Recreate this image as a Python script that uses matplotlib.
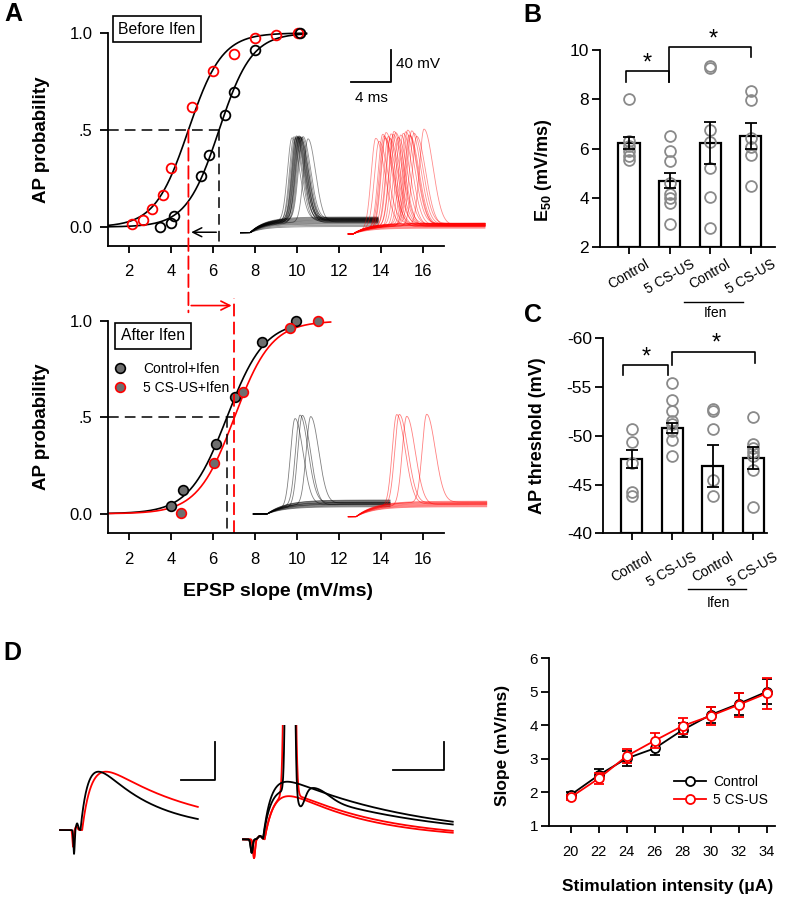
import numpy as np
import matplotlib
matplotlib.use('Agg')
import matplotlib.pyplot as plt
from matplotlib.lines import Line2D
from matplotlib.patches import ConnectionPatch
import matplotlib.transforms as mtransforms

plt.rcParams['font.family'] = ['Liberation Sans', 'DejaVu Sans']
plt.rcParams['axes.linewidth'] = 1.3
plt.rcParams['xtick.major.width'] = 1.3
plt.rcParams['ytick.major.width'] = 1.3
plt.rcParams['mathtext.default'] = 'regular'
plt.rcParams['axes.unicode_minus'] = False

W, H = 787, 901
fig = plt.figure(figsize=(W / 100, H / 100), dpi=100)

# ===================== DATA =====================
# Panel A - before Ifen (AP probability vs EPSP slope)
before_ctrl_x = [3.49, 3.98, 4.13, 5.43, 5.79, 6.56, 6.98, 8.02, 10.14]
before_ctrl_y = [0.0, 0.022, 0.055, 0.262, 0.371, 0.578, 0.698, 0.914, 1.0]
before_cs_x = [2.16, 2.65, 3.08, 3.62, 4.0, 5.0, 6.02, 7.02, 8.0, 9.0, 10.03]
before_cs_y = [0.014, 0.038, 0.095, 0.164, 0.305, 0.617, 0.805, 0.891, 0.974, 0.99, 1.0]
before_e50 = [6.29, 4.83]          # control, 5 CS-US
before_k = [0.78, 0.80]
# Panel A - after Ifen
after_ctrl_x = [3.99, 4.56, 6.12, 7.04, 8.33, 9.97]
after_ctrl_y = [0.038, 0.121, 0.36, 0.606, 0.891, 1.0]
after_cs_x = [4.46, 6.07, 7.44, 9.65, 11.0]
after_cs_y = [0.003, 0.263, 0.632, 0.964, 1.0]
after_e50 = [6.66, 7.02]
after_k = [0.90, 0.88]
slope_ticks = [2, 4, 6, 8, 10, 12, 14, 16]

# Panel A example AP traces (spike times in ms, membrane levels in mV)
topA_black_sub = [-57, -55.5, -54, -53, -52, -51, -50, -49, -48, -47, -46, -45]
topA_black_spk_t = [5.2, 5.4, 5.5, 5.6, 5.65, 5.7, 5.75, 5.8, 5.85, 5.9, 5.95, 6.0, 6.05, 6.1, 6.2, 6.3, 6.8]
topA_black_spk_v = [-48, -50, -47, -49, -51, -46, -48, -50, -47, -49, -52, -48, -46, -50, -49, -47, -51]
topA_black_peak = [55, 56, 54, 56, 57, 55, 56, 56, 55, 57, 56, 55, 56, 54, 55, 56, 53]
topA_red_sub = [-59, -58, -57, -56, -55.5, -55, -54, -53.5, -53, -52.5]
topA_red_spk_t = [13.57, 13.9, 14.27, 14.4, 14.5, 14.6, 14.83, 15.0, 15.1, 15.33, 15.4, 15.57,
                  15.83, 16.07, 16.33, 16.57, 16.77, 16.9, 17.0, 17.17, 17.4, 17.67, 18.4]
topA_red_spk_v = [-55, -53, -56, -54, -57, -55, -53, -56, -54, -55, -53, -57,
                  -54, -56, -55, -53, -54, -56, -55, -54, -53, -56, -55]
topA_red_peak = [56, 52, 60, 58, 55, 62, 57, 54, 60, 59, 63, 61, 55, 58, 60, 62, 64, 58, 57, 63, 60, 56, 65]
botA_black_sub = [-51, -50, -49, -48, -47.5, -47, -46, -45.5, -45, -44, -43, -42.5]
botA_black_spk_t = [5.5, 6.0, 6.23, 7.07]
botA_black_spk_v = [-47, -45, -48, -46]
botA_black_peak = [62, 66, 65, 63]
botA_red_sub = [-51, -50, -49, -48, -47, -46, -45, -44]
botA_red_spk_t = [15.67, 15.93, 16.67, 18.67]
botA_red_spk_v = [-47, -46, -48, -45]
botA_red_peak = [66, 66, 63, 65]

# Panel B - E50
groups = ['Control', '5 CS-US', 'Control', '5 CS-US']
e50_mean = [6.21, 4.70, 6.21, 6.50]
e50_sem = [0.24, 0.31, 0.85, 0.54]
e50_pts = [[8.0, 6.3, 6.1, 5.9, 5.7, 5.53],
           [6.52, 5.91, 5.5, 4.58, 4.17, 3.98, 3.78, 2.92],
           [9.33, 9.26, 6.75, 6.27, 5.2, 4.02, 2.76],
           [8.33, 7.97, 6.41, 6.07, 5.73, 4.47]]
# Panel C - AP threshold
thr_mean = [-47.6, -50.8, -46.9, -47.75]
thr_sem = [0.9, 0.55, 2.2, 1.15]
thr_pts = [[-50.7, -49.4, -47.2, -44.2, -43.85],
           [-55.4, -53.7, -52.5, -51.5, -51.2, -50.5, -49.6, -47.9],
           [-52.75, -52.5, -50.7, -45.5, -43.85],
           [-51.9, -49.2, -48.7, -48.3, -47.9, -46.5, -42.7]]

# Panel D - input/output
stim = [20, 22, 24, 26, 28, 30, 32, 34]
slope_ctrl = [1.92, 2.51, 3.01, 3.31, 3.86, 4.31, 4.64, 5.0]
slope_ctrl_err = [0.1, 0.17, 0.22, 0.2, 0.22, 0.25, 0.33, 0.37]
slope_cs = [1.85, 2.41, 3.08, 3.54, 3.98, 4.28, 4.61, 4.95]
slope_cs_err = [0.08, 0.15, 0.2, 0.22, 0.25, 0.28, 0.35, 0.45]

# Panel D example EPSP traces: (onset ms, rise tau, decay tau, amplitude mV)
d1_black = (7.5, 2.35, 16.0, 3.07)
d1_red = (8.0, 2.8, 26.0, 3.07)
d2_black_sub = (5.5, 1.6, 26.0, 4.27)
d2_black_spk = (5.5, 1.6, 26.0, 3.6)
d2_red_spk = (5.8, 2.0, 18.0, 3.3)
d2_red_sub = (5.8, 2.0, 16.0, 3.2)

RED = '#ff0000'
GRAY_PT = '#8a8a8a'


# ===================== HELPERS =====================
def ax_px(x0, y0, x1, y1):
    return fig.add_axes([x0 / W, 1 - y1 / H, (x1 - x0) / W, (y1 - y0) / H])


def ftext(x, y, s, **kw):
    return fig.text(x / W, 1 - y / H, s, **kw)


def clean(ax):
    ax.spines['top'].set_visible(False)
    ax.spines['right'].set_visible(False)
    ax.patch.set_alpha(0)


def boltz(x, e50, k):
    return 1.0 / (1.0 + np.exp((e50 - x) / k))


def rise(t, v0, vp, t_on, tau):
    return v0 + (vp - v0) * (1 - np.exp(-np.clip(t - t_on, 0, None) / tau))


def spike(t, ts, sr, sf):
    s = np.where(t < ts, sr, sf)
    return np.exp(-0.5 * ((t - ts) / s) ** 2)


def ap_family(ax, t0, t1, v0, t_on, tau, subs, spk_t, spk_v, spk_pk, color, alpha, sr, sf):
    t = np.linspace(t0, t1, 900)
    for p in subs:
        ax.plot(t, rise(t, v0, p, t_on, tau), color=color, lw=0.6, alpha=alpha)
    for ts, p, pk in zip(spk_t, spk_v, spk_pk):
        v = rise(t, v0, p, t_on, tau) + (pk - p) * spike(t, ts, sr, sf)
        ax.plot(t, v, color=color, lw=0.6, alpha=alpha)


def psp(t, onset, tr, td, amp):
    x = np.clip(t - onset, 0, None)
    tpk = tr * td / (td - tr) * np.log(td / tr)
    fpk = np.exp(-tpk / td) - np.exp(-tpk / tr)
    return amp * (np.exp(-x / td) - np.exp(-x / tr)) / fpk


def gauss(t, c, s):
    return np.exp(-0.5 * ((t - c) / s) ** 2)


# ===================== PANEL A (top) =====================
ax1 = ax_px(108, 13.6, 444, 246.4)
clean(ax1)
ax1.set_xlim(1, 17)
ax1.set_ylim(-0.1, 1.1)
ax1.spines['left'].set_bounds(-0.1, 1.0)
ax1.set_xticks(slope_ticks)
ax1.set_yticks([0, 0.5, 1.0])
ax1.set_yticklabels(['0.0', '.5', '1.0'])
ax1.tick_params(axis='x', labelsize=12, length=5, pad=8)
ax1.tick_params(axis='y', labelsize=12, length=6, pad=5)
xf = np.linspace(1, 10.45, 300)
ax1.plot(xf, boltz(xf, before_e50[0], before_k[0]), color='k', lw=1.2)
ax1.plot(xf, boltz(xf, before_e50[1], before_k[1]), color='k', lw=1.2)
ax1.plot(before_cs_x, before_cs_y, 'o', mfc='none', mec=RED, ms=7, mew=1.3, clip_on=False)
ax1.plot(before_ctrl_x, before_ctrl_y, 'o', mfc='none', mec='k', ms=7, mew=1.3, clip_on=False)
ax1.plot([1, before_e50[0]], [0.5, 0.5], color='k', lw=1.1, ls=(0, (7, 4)))
ax1.plot([before_e50[0], before_e50[0]], [0.5, -0.1], color='k', lw=1.1, ls=(0, (7, 4)))
ax1.annotate('', xy=(before_e50[1], -0.027), xytext=(before_e50[0], -0.027),
             arrowprops=dict(arrowstyle='->', color='k', lw=1.1, mutation_scale=16))

# ===================== PANEL A (bottom) =====================
ax2 = ax_px(108, 301.7, 444, 533.0)
clean(ax2)
ax2.set_xlim(1, 17)
ax2.set_ylim(-0.1, 1.1)
ax2.spines['left'].set_bounds(-0.1, 1.0)
ax2.set_xticks(slope_ticks)
ax2.set_yticks([0, 0.5, 1.0])
ax2.set_yticklabels(['0.0', '.5', '1.0'])
ax2.tick_params(axis='x', labelsize=12, length=5, pad=9)
ax2.tick_params(axis='y', labelsize=12, length=6, pad=5)
xb = np.linspace(1, 10.0, 300)
xr = np.linspace(1, 11.6, 300)
ax2.plot(xb, boltz(xb, after_e50[0], after_k[0]), color='k', lw=1.2)
ax2.plot(xr, boltz(xr, after_e50[1], after_k[1]), color=RED, lw=1.2)
ax2.plot(after_ctrl_x, after_ctrl_y, 'o', mfc='#6e6e6e', mec='k', ms=7, mew=1.2, clip_on=False)
ax2.plot(after_cs_x, after_cs_y, 'o', mfc='#6e6e6e', mec=RED, ms=7, mew=1.2, clip_on=False)
ax2.plot([1, after_e50[1]], [0.5, 0.5], color='k', lw=1.1, ls=(0, (7, 4)))
ax2.plot([after_e50[0], after_e50[0]], [0.5, -0.1], color='k', lw=1.1, ls=(0, (7, 4)))
ax2.plot([after_e50[1], after_e50[1]], [-0.1, 1.12], color=RED, lw=1.3, ls=(0, (7, 3)), clip_on=False)
ax2.annotate('', xy=(after_e50[1], 1.08), xytext=(before_e50[1], 1.08),
             arrowprops=dict(arrowstyle='->', color=RED, lw=1.2, mutation_scale=16),
             annotation_clip=False)
con = ConnectionPatch(xyA=(before_e50[1], 0.5), coordsA=ax1.transData,
                      xyB=(before_e50[1], 1.045), coordsB=ax2.transData,
                      color=RED, lw=1.3, ls=(0, (7, 3)))
fig.add_artist(con)

leg_handles = [Line2D([], [], marker='o', ls='none', ms=7, mfc='#6e6e6e', mec='k', mew=1.2),
               Line2D([], [], marker='o', ls='none', ms=7, mfc='#6e6e6e', mec=RED, mew=1.2)]
ax2.legend(leg_handles, ['Control+Ifen', '5 CS-US+Ifen'], loc='upper left',
           bbox_to_anchor=(113 / W, 1 - 362 / H), bbox_transform=fig.transFigure,
           frameon=False, fontsize=10, handlelength=1.0, handletextpad=1.15,
           borderpad=0, borderaxespad=0, labelspacing=0.35)

# boxes
ftext(157, 29, 'Before Ifen', fontsize=11.3, ha='center', va='center',
      bbox=dict(boxstyle='square,pad=0.35', fc='white', ec='k', lw=1.2))
ftext(153, 336, 'After Ifen', fontsize=11.3, ha='center', va='center',
      bbox=dict(boxstyle='square,pad=0.35', fc='white', ec='k', lw=1.2))

# AP traces (top)
tA = ax_px(240, 40, 490, 245)
tA.set_xlim(0, 25)
tA.set_ylim(-80, 176.25)
tA.axis('off')
ap_family(tA, 0, 13.8, -64.6, 1.0, 1.5, topA_black_sub, topA_black_spk_t,
          topA_black_spk_v, topA_black_peak, 'k', 0.45, 0.45, 0.75)
ap_family(tA, 10.83, 24.5, -66.2, 11.3, 1.6, topA_red_sub, topA_red_spk_t,
          topA_red_spk_v, topA_red_peak, RED, 0.45, 0.45, 0.9)
tA.plot([11.1, 15.1, 15.1], [123.75, 123.75, 163.75], color='k', lw=1.3)
ftext(396, 64, '40 mV', fontsize=11, ha='left', va='center')
ftext(371, 97.5, '4 ms', fontsize=11, ha='center', va='center')

# AP traces (bottom)
tB = ax_px(240, 395, 490, 530)
tB.set_xlim(0, 25)
tB.set_ylim(-80, 88.75)
tB.axis('off')
ap_family(tB, 1.33, 15.0, -60, 2.7, 1.8, botA_black_sub, botA_black_spk_t,
          botA_black_spk_v, botA_black_peak, 'k', 0.5, 0.45, 0.8)
ap_family(tB, 10.83, 24.67, -63.4, 11.6, 1.8, botA_red_sub, botA_red_spk_t,
          botA_red_spk_v, botA_red_peak, RED, 0.5, 0.45, 0.85)

ftext(42, 140, 'AP probability', fontsize=13.5, fontweight='bold', rotation=90,
      ha='center', va='center')
ftext(42, 427, 'AP probability', fontsize=13.5, fontweight='bold', rotation=90,
      ha='center', va='center')
ftext(278, 592, 'EPSP slope (mV/ms)', fontsize=14, fontweight='bold', ha='center', va='center')


# ===================== PANELS B & C =====================
def bar_panel(ax, means, sems, pts, bottom):
    xs = np.arange(len(means))
    heights = [m - bottom for m in means]
    ax.bar(xs, heights, bottom=bottom, width=0.52, color='white', edgecolor='k', lw=1.6, zorder=2)
    for i, p in enumerate(pts):
        ax.plot([xs[i]] * len(p), p, 'o', mfc='none', mec=GRAY_PT, ms=7.8, mew=1.3, zorder=3)
    ax.errorbar(xs, means, yerr=sems, fmt='none', ecolor='k', elinewidth=1.3,
                capsize=4.5, capthick=1.3, zorder=4)
    ax.set_xticks(xs)
    ax.set_xticklabels(groups, rotation=30, ha='center', va='top', fontsize=10)
    off = mtransforms.ScaledTranslation(-0.09, 0, fig.dpi_scale_trans)
    for lab in ax.get_xticklabels():
        lab.set_transform(lab.get_transform() + off)


axB = ax_px(600, 50, 775, 247)
clean(axB)
axB.set_xlim(-0.715, 3.6)
axB.set_ylim(2, 10)
axB.set_yticks([2, 4, 6, 8, 10])
bar_panel(axB, e50_mean, e50_sem, e50_pts, 2)
axB.tick_params(axis='y', labelsize=12.5, length=6, pad=2)
axB.tick_params(axis='x', length=5, pad=2)
axB.plot([-0.08, -0.08, 0.99, 0.99], [8.71, 9.15, 9.15, 8.71], color='k', lw=1.2, clip_on=False)
axB.plot([0.99, 0.99, 3.02, 3.02], [8.71, 10.13, 10.13, 9.7], color='k', lw=1.2, clip_on=False)
axB.text(0.46, 9.2, '*', fontsize=17, ha='center', va='baseline')
axB.text(2.07, 10.18, '*', fontsize=17, ha='center', va='baseline')
bt = mtransforms.blended_transform_factory(axB.transData, axB.transAxes)
axB.plot([1.36, 2.81], [-0.279, -0.279], color='k', lw=1.0, transform=bt, clip_on=False)
ftext(715, 313, 'Ifen', fontsize=10, ha='center', va='center')
ftext(543, 170, 'E$_{50}$ (mV/ms)', fontsize=13, fontweight='bold', rotation=90,
      ha='center', va='center')

axC = ax_px(603, 338.3, 767, 533.3)
clean(axC)
axC.set_xlim(-0.708, 3.34)
axC.set_ylim(-40, -60)
axC.set_yticks([-60, -55, -50, -45, -40])
bar_panel(axC, thr_mean, thr_sem, thr_pts, -40)
axC.tick_params(axis='y', labelsize=12.5, length=6, pad=2)
axC.tick_params(axis='x', length=5, pad=7)
axC.plot([-0.21, -0.21, 0.90, 0.90], [-56.2, -57.3, -57.3, -56.2], color='k', lw=1.2, clip_on=False)
axC.plot([0.99, 0.99, 3.04, 3.04], [-57.3, -58.6, -58.6, -57.5], color='k', lw=1.2, clip_on=False)
axC.text(0.35, -57.45, '*', fontsize=17, ha='center', va='baseline')
axC.text(2.08, -58.85, '*', fontsize=17, ha='center', va='baseline')
ct = mtransforms.blended_transform_factory(axC.transData, axC.transAxes)
axC.plot([1.38, 2.81], [-0.287, -0.287], color='k', lw=1.0, transform=ct, clip_on=False)
ftext(718.7, 603.3, 'Ifen', fontsize=10, ha='center', va='center')
ftext(537, 436, 'AP threshold (mV)', fontsize=13, fontweight='bold', rotation=90,
      ha='center', va='center')

# ===================== PANEL D (right) =====================
axD = ax_px(549, 658.3, 775, 825.7)
clean(axD)
axD.set_xlim(18.45, 34.6)
axD.set_ylim(1, 6)
axD.set_xticks(stim)
axD.set_yticks([1, 2, 3, 4, 5, 6])
axD.tick_params(axis='x', labelsize=10.5, length=5, pad=9)
axD.tick_params(axis='y', labelsize=11, length=6, pad=2)
axD.errorbar(stim, slope_ctrl, yerr=slope_ctrl_err, color='k', lw=1.3, marker='o', ms=6.5,
             mfc='white', mec='k', mew=1.3, capsize=3.5, capthick=1.3, elinewidth=1.3,
             label='Control', clip_on=False, zorder=3)
axD.errorbar(stim, slope_cs, yerr=slope_cs_err, color=RED, lw=1.3, marker='o', ms=6.5,
             mfc='white', mec=RED, mew=1.3, capsize=3.5, capthick=1.3, elinewidth=1.3,
             label='5 CS-US', clip_on=False, zorder=4)
hD = [Line2D([], [], color='k', lw=1.3, marker='o', ms=6.5, mfc='white', mec='k', mew=1.3),
      Line2D([], [], color=RED, lw=1.3, marker='o', ms=6.5, mfc='white', mec=RED, mew=1.3)]
axD.legend(hD, ['Control', '5 CS-US'], loc='upper left',
           bbox_to_anchor=(674 / W, 1 - 775 / H), bbox_transform=fig.transFigure,
           frameon=False, fontsize=10, handlelength=2.3, handletextpad=0.5,
           borderpad=0, borderaxespad=0, labelspacing=0.3)
ftext(503, 745, 'Slope (mV/ms)', fontsize=12.5, fontweight='bold', rotation=90,
      ha='center', va='center')
ftext(668, 887, 'Stimulation intensity (\u03bcA)', fontsize=12.5, fontweight='bold',
      ha='center', va='center')

# ===================== PANEL D (traces) =====================
d1 = ax_px(55, 735, 225, 865)
d1.set_xlim(0, 50)
d1.set_ylim(-1.84, 5.0)
d1.axis('off')
t1 = np.linspace(1.47, 42, 1200)
vb = psp(t1, *d1_black) - 1.26 * gauss(t1, 5.6, 0.18) + 0.35 * gauss(t1, 6.5, 0.3)
vr = psp(t1, *d1_red) - 0.88 * gauss(t1, 5.3, 0.18) + 0.2 * gauss(t1, 6.3, 0.3)
d1.plot(t1, vr, color=RED, lw=1.3)
d1.plot(t1, vb, color='k', lw=1.3)
d1.plot([37.06, 47.06, 47.06], [2.63, 2.63, 4.65], color='k', lw=1.3)

d2 = ax_px(235, 725, 460, 870)
d2.set_xlim(0, 44.12)
d2.set_ylim(-2.27, 8.47)
d2.axis('off')
t2 = np.linspace(1.57, 42.7, 2500)
art_b = -1.0 * gauss(t2, 3.27, 0.2) + 0.25 * gauss(t2, 4.9, 0.35)
art_r = -1.39 * gauss(t2, 3.73, 0.2) + 0.25 * gauss(t2, 4.9, 0.35)
v_bs = psp(t2, *d2_black_sub) + art_b
v_bk = (psp(t2, *d2_black_spk) + art_b + 100 * gauss(t2, 10.8, 0.45)
        - 1.3 * gauss(t2, 12.9, 0.8) + 0.7 * gauss(t2, 16.0, 2.5))
v_rs = psp(t2, *d2_red_sub) + art_r
v_rk = psp(t2, *d2_red_spk) + art_r + 100 * gauss(t2, 10.7, 0.55)
d2.plot(t2, v_rs, color=RED, lw=1.3)
d2.plot(t2, v_rk, color=RED, lw=1.3)
d2.plot(t2, v_bs, color='k', lw=1.3)
d2.plot(t2, v_bk, color='k', lw=1.3)
d2.plot([30.92, 41.04, 41.04], [5.13, 5.13, 7.19], color='k', lw=1.3)

# ===================== Panel letters =====================
ftext(13, 14, 'A', fontsize=18, fontweight='bold', ha='center', va='center')
ftext(532, 15, 'B', fontsize=18, fontweight='bold', ha='center', va='center')
ftext(533, 315, 'C', fontsize=18, fontweight='bold', ha='center', va='center')
ftext(12, 653, 'D', fontsize=18, fontweight='bold', ha='center', va='center')

fig.savefig('out.png', dpi=100)
